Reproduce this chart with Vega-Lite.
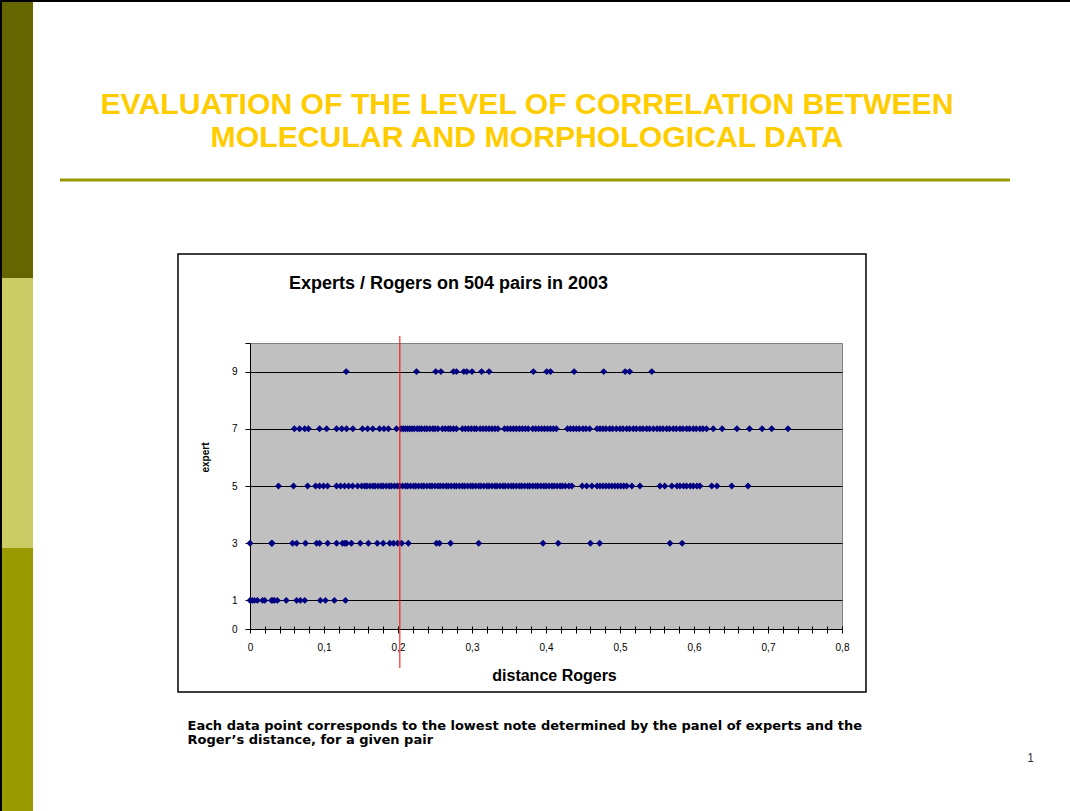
{
  "$schema": "https://vega.github.io/schema/vega-lite/v6.json",
  "width": 592,
  "height": 286,
  "autosize": {"type": "none"},
  "padding": {"left": 250, "top": 343, "right": 228, "bottom": 182},
  "background": "white",
  "config": {
    "view": {"stroke": "#808080", "fill": "#C0C0C0", "strokeWidth": 1},
    "font": "Liberation Sans"
  },
  "title": {
    "text": ["EVALUATION OF THE LEVEL OF CORRELATION BETWEEN", "MOLECULAR AND MORPHOLOGICAL DATA"],
    "font": "Liberation Sans",
    "fontSize": 30.2,
    "fontWeight": "bold",
    "color": "#FFCC00",
    "lineHeight": 33,
    "anchor": "start",
    "frame": "group",
    "align": "center",
    "dx": 277,
    "offset": -154
  },
  "datasets": {
    "pts": [
      {"d": 0.130, "e": 9}, {"d": 0.225, "e": 9}, {"d": 0.251, "e": 9}, {"d": 0.258, "e": 9}, {"d": 0.275, "e": 9}, {"d": 0.279, "e": 9}, {"d": 0.289, "e": 9}, {"d": 0.293, "e": 9}, {"d": 0.300, "e": 9}, {"d": 0.313, "e": 9}, {"d": 0.323, "e": 9}, {"d": 0.383, "e": 9}, {"d": 0.401, "e": 9}, {"d": 0.406, "e": 9}, {"d": 0.438, "e": 9}, {"d": 0.478, "e": 9}, {"d": 0.507, "e": 9}, {"d": 0.513, "e": 9}, {"d": 0.543, "e": 9},

      {"d": 0.060, "e": 7}, {"d": 0.067, "e": 7}, {"d": 0.074, "e": 7}, {"d": 0.079, "e": 7}, {"d": 0.094, "e": 7}, {"d": 0.1035, "e": 7}, {"d": 0.117, "e": 7}, {"d": 0.124, "e": 7}, {"d": 0.1305, "e": 7}, {"d": 0.139, "e": 7}, {"d": 0.152, "e": 7}, {"d": 0.159, "e": 7}, {"d": 0.166, "e": 7}, {"d": 0.175, "e": 7}, {"d": 0.181, "e": 7}, {"d": 0.187, "e": 7}, {"d": 0.198, "e": 7},
      {"d": 0.204, "e": 7}, {"d": 0.207, "e": 7}, {"d": 0.210, "e": 7}, {"d": 0.213, "e": 7}, {"d": 0.216, "e": 7}, {"d": 0.219, "e": 7}, {"d": 0.222, "e": 7}, {"d": 0.226, "e": 7}, {"d": 0.229, "e": 7}, {"d": 0.232, "e": 7}, {"d": 0.236, "e": 7}, {"d": 0.239, "e": 7}, {"d": 0.243, "e": 7}, {"d": 0.247, "e": 7}, {"d": 0.250, "e": 7}, {"d": 0.254, "e": 7}, {"d": 0.260, "e": 7}, {"d": 0.264, "e": 7}, {"d": 0.268, "e": 7}, {"d": 0.271, "e": 7}, {"d": 0.275, "e": 7}, {"d": 0.279, "e": 7}, {"d": 0.287, "e": 7}, {"d": 0.291, "e": 7}, {"d": 0.295, "e": 7}, {"d": 0.299, "e": 7}, {"d": 0.303, "e": 7}, {"d": 0.306, "e": 7}, {"d": 0.311, "e": 7}, {"d": 0.315, "e": 7}, {"d": 0.319, "e": 7}, {"d": 0.323, "e": 7}, {"d": 0.327, "e": 7}, {"d": 0.331, "e": 7}, {"d": 0.335, "e": 7}, {"d": 0.344, "e": 7}, {"d": 0.348, "e": 7}, {"d": 0.352, "e": 7}, {"d": 0.356, "e": 7}, {"d": 0.360, "e": 7}, {"d": 0.364, "e": 7}, {"d": 0.368, "e": 7}, {"d": 0.372, "e": 7}, {"d": 0.376, "e": 7}, {"d": 0.382, "e": 7}, {"d": 0.386, "e": 7}, {"d": 0.390, "e": 7}, {"d": 0.394, "e": 7}, {"d": 0.398, "e": 7}, {"d": 0.402, "e": 7}, {"d": 0.406, "e": 7}, {"d": 0.410, "e": 7}, {"d": 0.414, "e": 7},
      {"d": 0.429, "e": 7}, {"d": 0.433, "e": 7}, {"d": 0.437, "e": 7}, {"d": 0.441, "e": 7}, {"d": 0.445, "e": 7}, {"d": 0.450, "e": 7}, {"d": 0.454, "e": 7}, {"d": 0.459, "e": 7}, {"d": 0.469, "e": 7}, {"d": 0.473, "e": 7}, {"d": 0.477, "e": 7}, {"d": 0.481, "e": 7}, {"d": 0.486, "e": 7}, {"d": 0.490, "e": 7}, {"d": 0.495, "e": 7}, {"d": 0.500, "e": 7}, {"d": 0.504, "e": 7}, {"d": 0.509, "e": 7}, {"d": 0.513, "e": 7}, {"d": 0.518, "e": 7}, {"d": 0.522, "e": 7}, {"d": 0.527, "e": 7}, {"d": 0.531, "e": 7}, {"d": 0.536, "e": 7}, {"d": 0.540, "e": 7}, {"d": 0.545, "e": 7}, {"d": 0.550, "e": 7}, {"d": 0.554, "e": 7}, {"d": 0.558, "e": 7}, {"d": 0.563, "e": 7}, {"d": 0.567, "e": 7}, {"d": 0.572, "e": 7}, {"d": 0.576, "e": 7}, {"d": 0.581, "e": 7}, {"d": 0.585, "e": 7}, {"d": 0.590, "e": 7}, {"d": 0.594, "e": 7}, {"d": 0.599, "e": 7}, {"d": 0.603, "e": 7}, {"d": 0.608, "e": 7}, {"d": 0.612, "e": 7}, {"d": 0.617, "e": 7}, {"d": 0.626, "e": 7}, {"d": 0.638, "e": 7}, {"d": 0.658, "e": 7}, {"d": 0.675, "e": 7}, {"d": 0.692, "e": 7}, {"d": 0.705, "e": 7}, {"d": 0.727, "e": 7},

      {"d": 0.0385, "e": 5}, {"d": 0.0588, "e": 5}, {"d": 0.0778, "e": 5}, {"d": 0.0886, "e": 5}, {"d": 0.094, "e": 5}, {"d": 0.0994, "e": 5}, {"d": 0.1048, "e": 5}, {"d": 0.117, "e": 5}, {"d": 0.1224, "e": 5}, {"d": 0.1278, "e": 5}, {"d": 0.1332, "e": 5}, {"d": 0.1386, "e": 5}, {"d": 0.1454, "e": 5},
      {"d": 0.151, "e": 5}, {"d": 0.155, "e": 5}, {"d": 0.158, "e": 5}, {"d": 0.162, "e": 5}, {"d": 0.166, "e": 5}, {"d": 0.169, "e": 5}, {"d": 0.173, "e": 5}, {"d": 0.177, "e": 5}, {"d": 0.180, "e": 5}, {"d": 0.184, "e": 5}, {"d": 0.188, "e": 5}, {"d": 0.191, "e": 5}, {"d": 0.195, "e": 5}, {"d": 0.199, "e": 5}, {"d": 0.202, "e": 5}, {"d": 0.206, "e": 5}, {"d": 0.210, "e": 5}, {"d": 0.213, "e": 5}, {"d": 0.217, "e": 5}, {"d": 0.221, "e": 5}, {"d": 0.224, "e": 5}, {"d": 0.228, "e": 5}, {"d": 0.232, "e": 5}, {"d": 0.235, "e": 5}, {"d": 0.239, "e": 5}, {"d": 0.243, "e": 5}, {"d": 0.246, "e": 5}, {"d": 0.250, "e": 5}, {"d": 0.254, "e": 5}, {"d": 0.257, "e": 5}, {"d": 0.261, "e": 5}, {"d": 0.265, "e": 5}, {"d": 0.268, "e": 5}, {"d": 0.272, "e": 5}, {"d": 0.276, "e": 5}, {"d": 0.279, "e": 5}, {"d": 0.283, "e": 5}, {"d": 0.287, "e": 5}, {"d": 0.290, "e": 5}, {"d": 0.294, "e": 5}, {"d": 0.298, "e": 5}, {"d": 0.301, "e": 5}, {"d": 0.305, "e": 5}, {"d": 0.309, "e": 5}, {"d": 0.312, "e": 5}, {"d": 0.316, "e": 5}, {"d": 0.320, "e": 5}, {"d": 0.323, "e": 5}, {"d": 0.327, "e": 5}, {"d": 0.331, "e": 5}, {"d": 0.334, "e": 5}, {"d": 0.338, "e": 5}, {"d": 0.342, "e": 5}, {"d": 0.345, "e": 5}, {"d": 0.349, "e": 5}, {"d": 0.353, "e": 5}, {"d": 0.356, "e": 5}, {"d": 0.360, "e": 5}, {"d": 0.364, "e": 5}, {"d": 0.367, "e": 5}, {"d": 0.371, "e": 5}, {"d": 0.375, "e": 5}, {"d": 0.378, "e": 5}, {"d": 0.382, "e": 5}, {"d": 0.386, "e": 5}, {"d": 0.389, "e": 5}, {"d": 0.393, "e": 5}, {"d": 0.397, "e": 5}, {"d": 0.400, "e": 5}, {"d": 0.404, "e": 5}, {"d": 0.408, "e": 5}, {"d": 0.411, "e": 5}, {"d": 0.415, "e": 5}, {"d": 0.419, "e": 5}, {"d": 0.422, "e": 5}, {"d": 0.426, "e": 5}, {"d": 0.431, "e": 5}, {"d": 0.435, "e": 5},
      {"d": 0.449, "e": 5}, {"d": 0.455, "e": 5}, {"d": 0.462, "e": 5}, {"d": 0.469, "e": 5}, {"d": 0.473, "e": 5}, {"d": 0.477, "e": 5}, {"d": 0.481, "e": 5}, {"d": 0.485, "e": 5}, {"d": 0.489, "e": 5}, {"d": 0.493, "e": 5}, {"d": 0.497, "e": 5}, {"d": 0.501, "e": 5}, {"d": 0.505, "e": 5}, {"d": 0.509, "e": 5}, {"d": 0.516, "e": 5}, {"d": 0.527, "e": 5}, {"d": 0.554, "e": 5}, {"d": 0.5605, "e": 5}, {"d": 0.570, "e": 5}, {"d": 0.577, "e": 5}, {"d": 0.581, "e": 5}, {"d": 0.586, "e": 5}, {"d": 0.590, "e": 5}, {"d": 0.595, "e": 5}, {"d": 0.599, "e": 5}, {"d": 0.604, "e": 5}, {"d": 0.608, "e": 5}, {"d": 0.624, "e": 5}, {"d": 0.631, "e": 5}, {"d": 0.651, "e": 5}, {"d": 0.673, "e": 5},

      {"d": 0.000, "e": 3}, {"d": 0.029, "e": 3}, {"d": 0.030, "e": 3}, {"d": 0.0575, "e": 3}, {"d": 0.063, "e": 3}, {"d": 0.075, "e": 3}, {"d": 0.090, "e": 3}, {"d": 0.094, "e": 3}, {"d": 0.105, "e": 3}, {"d": 0.117, "e": 3}, {"d": 0.125, "e": 3}, {"d": 0.128, "e": 3}, {"d": 0.1305, "e": 3}, {"d": 0.137, "e": 3}, {"d": 0.149, "e": 3}, {"d": 0.160, "e": 3}, {"d": 0.172, "e": 3}, {"d": 0.180, "e": 3}, {"d": 0.189, "e": 3}, {"d": 0.194, "e": 3}, {"d": 0.1995, "e": 3}, {"d": 0.205, "e": 3}, {"d": 0.214, "e": 3}, {"d": 0.252, "e": 3}, {"d": 0.256, "e": 3}, {"d": 0.271, "e": 3}, {"d": 0.309, "e": 3}, {"d": 0.396, "e": 3}, {"d": 0.4165, "e": 3}, {"d": 0.460, "e": 3}, {"d": 0.4725, "e": 3}, {"d": 0.5675, "e": 3}, {"d": 0.584, "e": 3},

      {"d": 0.000, "e": 1}, {"d": 0.003, "e": 1}, {"d": 0.006, "e": 1}, {"d": 0.010, "e": 1}, {"d": 0.017, "e": 1}, {"d": 0.020, "e": 1}, {"d": 0.029, "e": 1}, {"d": 0.031, "e": 1}, {"d": 0.033, "e": 1}, {"d": 0.037, "e": 1}, {"d": 0.049, "e": 1}, {"d": 0.063, "e": 1}, {"d": 0.068, "e": 1}, {"d": 0.074, "e": 1}, {"d": 0.095, "e": 1}, {"d": 0.102, "e": 1}, {"d": 0.114, "e": 1}, {"d": 0.129, "e": 1}
    ]
  },
  "layer": [
    {
      "resolve": {"axis": {"x": "independent", "y": "independent"}},
      "layer": [
        {
          "data": {"values": [{}]},
          "mark": {"type": "rect", "color": "#666600"},
          "encoding": {"x": {"datum": -0.3378, "axis": null}, "x2": {"datum": -0.2932}, "y": {"datum": 21.993, "axis": null}, "y2": {"datum": 12.273}}
        },
        {
          "data": {"values": [{}]},
          "mark": {"type": "rect", "color": "#CCCC66"},
          "encoding": {"x": {"datum": -0.3378, "axis": null}, "x2": {"datum": -0.2932}, "y": {"datum": 12.273, "axis": null}, "y2": {"datum": 2.832}}
        },
        {
          "data": {"values": [{}]},
          "mark": {"type": "rect", "color": "#999900"},
          "encoding": {"x": {"datum": -0.3378, "axis": null}, "x2": {"datum": -0.2932}, "y": {"datum": 2.832, "axis": null}, "y2": {"datum": -6.364}}
        },
        {
          "data": {"values": [{}]},
          "mark": {"type": "rule", "color": "black", "strokeWidth": 2},
          "encoding": {"x": {"datum": -0.3378, "axis": null}, "x2": {"datum": 1.1081}, "y": {"datum": 21.958, "axis": null}}
        },
        {
          "data": {"values": [{}]},
          "mark": {"type": "rule", "color": "black", "strokeWidth": 2},
          "encoding": {"x": {"datum": -0.3365, "axis": null}, "y": {"datum": 21.993, "axis": null}, "y2": {"datum": -6.364}}
        },
        {
          "data": {"values": [{}]},
          "mark": {"type": "rule", "color": "#999900", "strokeWidth": 3},
          "encoding": {"x": {"datum": -0.2568, "axis": null}, "x2": {"datum": 1.027}, "y": {"datum": 15.699, "axis": null}}
        },
        {
          "data": {"values": [{}]},
          "mark": {"type": "rect", "fill": "white", "fillOpacity": 0, "stroke": "black", "strokeWidth": 1.5},
          "encoding": {"x": {"datum": -0.0973, "axis": null}, "x2": {"datum": 0.8324}, "y": {"datum": 13.112, "axis": null}, "y2": {"datum": -2.203}}
        },
        {
          "data": {"name": "pts"},
          "mark": {"type": "point", "shape": "diamond", "filled": true, "color": "#000080", "size": 48, "opacity": 1},
          "encoding": {
            "x": {
              "field": "d", "type": "quantitative",
              "scale": {"domain": [0, 0.8], "nice": false, "zero": false},
              "axis": {
                "title": "distance Rogers",
                "values": [0,0.02,0.04,0.06,0.08,0.1,0.12,0.14,0.16,0.18,0.2,0.22,0.24,0.26,0.28,0.3,0.32,0.34,0.36,0.38,0.4,0.42,0.44,0.46,0.48,0.5,0.52,0.54,0.56,0.58,0.6,0.62,0.64,0.66,0.68,0.7,0.72,0.74,0.76,0.78,0.8],
                "labelExpr": "abs(datum.value*10 - round(datum.value*10)) < 0.001 ? replace(format(datum.value, '.1~f'), '.', ',') : ''",
                "labelOverlap": false,
                "labelFlush": false,
                "labelBound": false,
                "grid": false,
                "ticks": true,
                "domainColor": "black",
                "domainWidth": 1,
                "tickColor": "black",
                "tickWidth": 1,
                "tickSize": 4,
                "labelPadding": 9,
                "labelFont": "Liberation Sans",
                "labelFontSize": 10,
                "labelColor": "black",
                "titleFont": "Liberation Sans",
                "titleFontSize": 16,
                "titleFontWeight": "bold",
                "titleColor": "black",
                "titleX": 304,
                "titleY": 51,
                "titleAlign": "center",
                "titleBaseline": "alphabetic"
              }
            },
            "y": {
              "field": "e", "type": "quantitative",
              "scale": {"domain": [0, 10], "nice": false, "zero": false},
              "axis": {
                "title": "expert",
                "values": [0, 1, 3, 5, 7, 9, 10],
                "labelExpr": "datum.value == 10 ? '' : datum.label",
                "grid": true,
                "gridColor": {"condition": {"test": "datum.value == 10 || datum.value == 0", "value": "transparent"}, "value": "black"},
                "gridWidth": 1,
                "gridOpacity": 1,
                "domainColor": "black",
                "tickColor": "black",
                "tickSize": 5,
                "labelPadding": 8,
                "labelFont": "Liberation Sans",
                "labelFontSize": 10,
                "labelColor": "black",
                "titleFont": "Liberation Sans",
                "titleFontSize": 10,
                "titleFontWeight": "bold",
                "titleColor": "black",
                "titleX": -40,
                "titleY": 114
              }
            }
          }
        },
        {
          "data": {"values": [{}]},
          "mark": {"type": "rule", "color": "#FF0000", "strokeWidth": 1},
          "encoding": {"x": {"datum": 0.2025, "axis": null}, "y": {"datum": 10.245, "axis": null}, "y2": {"datum": -1.364}}
        }
      ]
    },
    {
      "data": {"name": "pts"},
      "mark": {"type": "point", "opacity": 0},
      "encoding": {
        "x": {
          "field": "d", "type": "quantitative",
          "axis": {
            "orient": "top",
            "title": "Experts / Rogers on 504 pairs in 2003",
            "labels": false, "ticks": false, "domain": false, "grid": false,
            "titleX": 198, "titleY": -55,
            "titleAlign": "center", "titleBaseline": "alphabetic",
            "titleFont": "Liberation Sans", "titleFontSize": 18, "titleFontWeight": "bold", "titleColor": "black"
          }
        },
        "y": {
          "field": "e", "type": "quantitative",
          "axis": {
            "orient": "right",
            "title": ["Each data point corresponds to the lowest note determined by the panel of experts and the", "Roger’s distance, for a given pair"],
            "labels": false, "ticks": false, "domain": false, "grid": false,
            "titleAngle": 0,
            "titleX": -655, "titleY": 386,
            "titleAlign": "left", "titleBaseline": "alphabetic",
            "titleLineHeight": 14.5,
            "titleFont": "DejaVu Sans", "titleFontSize": 13, "titleFontWeight": "bold", "titleColor": "black"
          }
        }
      }
    },
    {
      "data": {"name": "pts"},
      "mark": {"type": "point", "opacity": 0},
      "encoding": {
        "x": {
          "field": "d", "type": "quantitative",
          "scale": {"domain": [0, 0.8], "nice": false, "zero": false},
          "axis": {
            "orient": "bottom",
            "offset": -3,
            "title": "1",
            "values": [0,0.02,0.04,0.06,0.08,0.1,0.12,0.14,0.16,0.18,0.2,0.22,0.24,0.26,0.28,0.3,0.32,0.34,0.36,0.38,0.4,0.42,0.44,0.46,0.48,0.5,0.52,0.54,0.56,0.58,0.6,0.62,0.64,0.66,0.68,0.7,0.72,0.74,0.76,0.78,0.8],
            "labels": false, "ticks": true, "domain": false, "grid": false,
            "tickColor": "black", "tickSize": 3, "tickWidth": 1,
            "titleX": 780, "titleY": 135,
            "titleAlign": "center", "titleBaseline": "alphabetic",
            "titleFont": "Liberation Sans", "titleFontSize": 12, "titleFontWeight": "normal", "titleColor": "#333333"
          }
        }
      }
    }
  ],
  "resolve": {
    "scale": {"x": "independent", "y": "independent"},
    "axis": {"x": "independent", "y": "independent"}
  }
}
